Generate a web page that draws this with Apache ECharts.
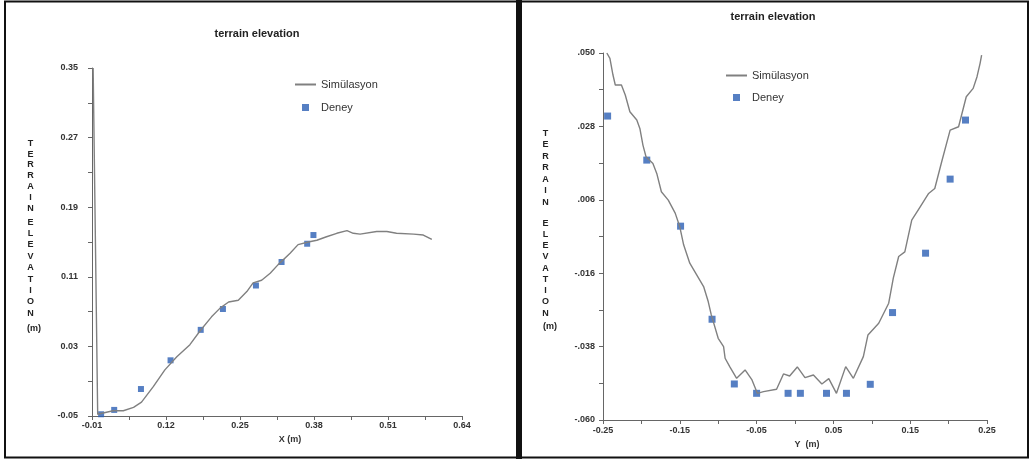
<!DOCTYPE html>
<html><head><meta charset="utf-8">
<script src="https://cdn.jsdelivr.net/npm/echarts@6/dist/echarts.min.js"></script>
<style>html,body{margin:0;padding:0;background:#fff}#c{width:1032px;height:463px}</style>
</head><body><div id="c"></div><script>
// ---- Left panel (X profile) ----
const simLeftX = [-0.008, 0.000, 0.027, 0.045, 0.063, 0.077, 0.098, 0.118, 0.139, 0.162, 0.180, 0.200, 0.215, 0.230, 0.247, 0.262, 0.273, 0.288, 0.303, 0.317, 0.338, 0.352, 0.370, 0.385, 0.402, 0.420, 0.438, 0.449, 0.461, 0.490, 0.508, 0.525, 0.555, 0.572, 0.587];
const simLeftY = [0.350, -0.048, -0.044, -0.044, -0.040, -0.034, -0.016, 0.003, 0.018, 0.032, 0.048, 0.064, 0.074, 0.081, 0.083, 0.093, 0.103, 0.106, 0.114, 0.124, 0.137, 0.147, 0.150, 0.152, 0.156, 0.160, 0.163, 0.160, 0.159, 0.162, 0.162, 0.160, 0.159, 0.158, 0.153];
const expLeftX = [0.006, 0.029, 0.076, 0.128, 0.181, 0.220, 0.278, 0.323, 0.368, 0.379];
const expLeftY = [-0.048, -0.043, -0.019, 0.014, 0.049, 0.073, 0.100, 0.127, 0.148, 0.158];
const leftXTicks = [-0.01, 0.055, 0.12, 0.185, 0.25, 0.315, 0.38, 0.445, 0.51, 0.575, 0.64];
const leftXLabels = [-0.01, 0.12, 0.25, 0.38, 0.51, 0.64];
const leftYTicks = [-0.05, -0.01, 0.03, 0.07, 0.11, 0.15, 0.19, 0.23, 0.27, 0.31, 0.35];
const leftYLabels = [-0.05, 0.03, 0.11, 0.19, 0.27, 0.35];

// ---- Right panel (Y profile) ----
const simRightX = [-0.245, -0.241, -0.237, -0.234, -0.226, -0.221, -0.215, -0.206, -0.202, -0.198, -0.194, -0.185, -0.180, -0.174, -0.165, -0.156, -0.150, -0.145, -0.137, -0.128, -0.119, -0.113, -0.109, -0.100, -0.093, -0.091, -0.085, -0.076, -0.065, -0.056, -0.049, -0.041, -0.024, -0.015, -0.007, 0.003, 0.013, 0.024, 0.035, 0.044, 0.054, 0.066, 0.076, 0.089, 0.095, 0.109, 0.122, 0.128, 0.135, 0.143, 0.152, 0.163, 0.174, 0.182, 0.191, 0.202, 0.213, 0.223, 0.232, 0.237, 0.241, 0.243];
const simRightY = [0.0500, 0.0484, 0.0434, 0.0404, 0.0404, 0.0374, 0.0324, 0.0299, 0.0274, 0.0224, 0.0189, 0.0169, 0.0139, 0.0084, 0.0059, 0.0020, -0.0021, -0.0075, -0.0130, -0.0165, -0.0200, -0.0245, -0.0285, -0.0355, -0.0380, -0.0415, -0.0440, -0.0475, -0.0450, -0.0480, -0.0520, -0.0515, -0.0508, -0.0462, -0.0468, -0.0441, -0.0473, -0.0465, -0.0492, -0.0476, -0.0520, -0.0440, -0.0475, -0.0410, -0.0345, -0.0310, -0.0250, -0.0175, -0.0110, -0.0096, -0.0001, 0.0039, 0.0079, 0.0094, 0.0174, 0.0269, 0.0279, 0.0369, 0.0394, 0.0429, 0.0469, 0.0494];
const expRightX = [-0.244, -0.193, -0.149, -0.108, -0.079, -0.050, -0.009, 0.007, 0.041, 0.067, 0.098, 0.127, 0.170, 0.202, 0.222];
const expRightY = [0.0311, 0.0179, -0.0019, -0.0298, -0.0492, -0.0520, -0.0520, -0.0520, -0.0520, -0.0520, -0.0493, -0.0278, -0.0100, 0.0122, 0.0299];
const rightXTicks = [-0.25, -0.2, -0.15, -0.1, -0.05, 0, 0.05, 0.1, 0.15, 0.2, 0.25];
const rightXLabels = [-0.25, -0.15, -0.05, 0.05, 0.15, 0.25];
const rightYTicks = [-0.06, -0.049, -0.038, -0.027, -0.016, -0.005, 0.006, 0.017, 0.028, 0.039, 0.05];
const rightYLabels = [-0.06, -0.038, -0.016, 0.006, 0.028, 0.05];

const titleText = 'terrain elevation';
const simName = 'Simülasyon';
const expName = 'Deney';

const FONT = '"Liberation Sans", Arial, sans-serif';
const zip = (a, b) => a.map((v, i) => [v, b[i]]);
const axisColor = '#666';
const lblStyle = { fontSize: 9, fontWeight: 'bold', color: '#333', fontFamily: FONT };
const fmt2 = v => v.toFixed(2);
const fmt3 = v => v.toFixed(3).replace(/^(-?)0\./, '$1.');

function xAxis(grid, min, max, ticks, labels, f, margin, name, gap, pad) {
  return {
    type: 'value', gridIndex: grid, min: min, max: max,
    axisLine: { show: true, onZero: false, lineStyle: { color: axisColor, width: 1 } },
    axisTick: { show: true, customValues: ticks, length: 4, lineStyle: { color: axisColor } },
    axisLabel: Object.assign({ customValues: labels, formatter: f, margin: margin }, lblStyle),
    splitLine: { show: false },
    name: name, nameLocation: 'middle', nameGap: gap,
    nameTextStyle: { fontSize: 9, fontWeight: 'bold', color: '#333', fontFamily: FONT, padding: [0, 0, 0, pad] }
  };
}
function yAxis(grid, min, max, ticks, labels, f, margin) {
  return {
    type: 'value', gridIndex: grid, min: min, max: max,
    axisLine: { show: true, onZero: false, lineStyle: { color: axisColor, width: 1 } },
    axisTick: { show: true, customValues: ticks, length: 4, lineStyle: { color: axisColor } },
    axisLabel: Object.assign({ customValues: labels, formatter: f, margin: margin }, lblStyle),
    splitLine: { show: false }
  };
}
function vtext(word, x, top, lh) {
  return { type: 'text', silent: true, style: { text: word.split('').join('\n'), x: x, y: top, align: 'center', verticalAlign: 'top', lineHeight: lh, font: 'bold 9px ' + FONT, fill: '#222' } };
}
function legendAt(left, top, gap) {
  return {
    left: left, top: top, orient: 'vertical', padding: 0, itemWidth: 21, itemHeight: 7, itemGap: gap, symbolKeepAspect: true,
    textStyle: { fontSize: 11, color: '#333', fontFamily: FONT },
    data: [
      { name: simName, itemStyle: { color: 'rgba(0,0,0,0)', borderColor: 'rgba(0,0,0,0)', borderWidth: 0, opacity: 0 } },
      { name: expName, icon: 'path://M0,0h10v10h-10z' }
    ]
  };
}

const chart = echarts.init(document.getElementById('c'));
chart.setOption({
  animation: false,
  backgroundColor: '#fff',
  grid: [
    { left: 92, top: 68, width: 370, height: 348 },
    { left: 603, top: 53, width: 384, height: 367 }
  ],
  xAxis: [
    xAxis(0, -0.01, 0.64, leftXTicks, leftXLabels, fmt2, 5, 'X (m)', 16, 26),
    xAxis(1, -0.25, 0.25, rightXTicks, rightXLabels, fmt2, 6, 'Y  (m)', 18, 24)
  ],
  yAxis: [
    yAxis(0, -0.05, 0.35, leftYTicks, leftYLabels, fmt2, 14),
    yAxis(1, -0.06, 0.05, rightYTicks, rightYLabels, fmt3, 8)
  ],
  legend: [legendAt(294, 79, 12), legendAt(725, 70, 11)],
  series: [
    { name: simName, type: 'line', xAxisIndex: 0, yAxisIndex: 0, data: zip(simLeftX, simLeftY), symbol: 'none', lineStyle: { color: '#808080', width: 1.4 }, itemStyle: { color: '#808080' } },
    { name: expName, type: 'scatter', xAxisIndex: 0, yAxisIndex: 0, data: zip(expLeftX, expLeftY), symbol: 'rect', symbolSize: 6, itemStyle: { color: '#2c5fb4' } },
    { name: simName, type: 'line', xAxisIndex: 1, yAxisIndex: 1, data: zip(simRightX, simRightY), symbol: 'none', lineStyle: { color: '#808080', width: 1.4 }, itemStyle: { color: '#808080' } },
    { name: expName, type: 'scatter', xAxisIndex: 1, yAxisIndex: 1, data: zip(expRightX, expRightY), symbol: 'rect', symbolSize: 7, itemStyle: { color: '#2c5fb4' } }
  ],
  graphic: [
    { type: 'rect', silent: true, shape: { x: 5, y: 1.5, width: 513, height: 456 }, style: { fill: 'none', stroke: '#111', lineWidth: 2 } },
    { type: 'rect', silent: true, shape: { x: 521, y: 1.5, width: 507, height: 456 }, style: { fill: 'none', stroke: '#111', lineWidth: 2 } },
    { type: 'rect', silent: true, shape: { x: 516, y: 0, width: 6, height: 459 }, style: { fill: '#111' } },
    { type: 'text', silent: true, style: { text: titleText, x: 257, y: 34, align: 'center', verticalAlign: 'middle', font: 'bold 11px ' + FONT, fill: '#222' } },
    { type: 'text', silent: true, style: { text: titleText, x: 773, y: 17, align: 'center', verticalAlign: 'middle', font: 'bold 11px ' + FONT, fill: '#222' } },
    vtext('TERRAIN', 30.5, 138, 10.8),
    vtext('ELEVATION', 30.5, 216.5, 11.4),
    { type: 'text', silent: true, style: { text: '(m)', x: 34, y: 329, align: 'center', verticalAlign: 'middle', font: 'bold 9px ' + FONT, fill: '#222' } },
    vtext('TERRAIN', 545.5, 127.3, 11.5),
    vtext('ELEVATION', 545.5, 217.4, 11.25),
    { type: 'text', silent: true, style: { text: '(m)', x: 550, y: 327, align: 'center', verticalAlign: 'middle', font: 'bold 9px ' + FONT, fill: '#222' } }
  ]
});
</script></body></html>
